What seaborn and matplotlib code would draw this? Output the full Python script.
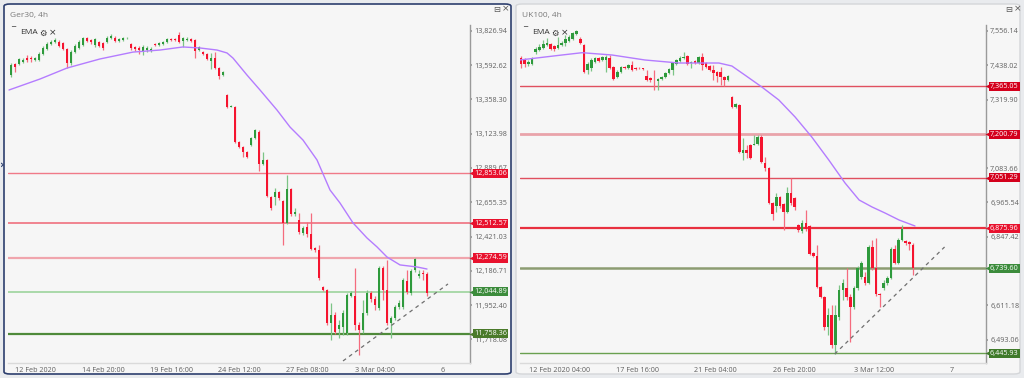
import matplotlib
matplotlib.use("Agg")
import matplotlib.pyplot as plt
import matplotlib.transforms as mtransforms
from matplotlib.patches import FancyBboxPatch
import numpy as np
import pandas as pd
import seaborn as sns

# ---- Ger30 4h candles: (open, high, low, close) ----
ger_ohlc = [
    (13524, 13606, 13511, 13593), (13599, 13606, 13545, 13579), (13599, 13640, 13593, 13634),
    (13613, 13640, 13606, 13627), (13640, 13661, 13613, 13627), (13640, 13654, 13613, 13634),
    (13627, 13647, 13620, 13640), (13627, 13681, 13620, 13668), (13668, 13722, 13661, 13709),
    (13702, 13750, 13695, 13736), (13736, 13763, 13729, 13750), (13750, 13777, 13743, 13763),
    (13750, 13763, 13716, 13722), (13743, 13750, 13695, 13702), (13702, 13709, 13572, 13606),
    (13606, 13695, 13593, 13681), (13681, 13736, 13675, 13722), (13709, 13763, 13702, 13750),
    (13729, 13784, 13722, 13777), (13777, 13784, 13750, 13757), (13763, 13770, 13736, 13750),
    (13729, 13777, 13716, 13770), (13750, 13757, 13716, 13722), (13743, 13750, 13695, 13709),
    (13750, 13791, 13743, 13777), (13777, 13804, 13770, 13791), (13777, 13791, 13750, 13757),
    (13757, 13777, 13750, 13770), (13763, 13784, 13757, 13777), (13774, 13784, 13770, 13779),
    (13736, 13743, 13695, 13709), (13716, 13722, 13688, 13702), (13709, 13722, 13668, 13695),
    (13688, 13729, 13661, 13716), (13695, 13722, 13681, 13709), (13688, 13716, 13681, 13702),
    (13736, 13743, 13722, 13729), (13729, 13750, 13722, 13743), (13736, 13757, 13729, 13750),
    (13750, 13777, 13743, 13770), (13770, 13777, 13757, 13763), (13770, 13777, 13757, 13763),
    (13798, 13818, 13743, 13750), (13757, 13784, 13716, 13777), (13763, 13784, 13757, 13770),
    (13770, 13777, 13750, 13757), (13763, 13770, 13640, 13688), (13695, 13722, 13688, 13716),
    (13681, 13688, 13661, 13668), (13668, 13675, 13627, 13634), (13620, 13675, 13565, 13640),
    (13640, 13681, 13565, 13572), (13572, 13579, 13497, 13518), (13524, 13552, 13518, 13545),
    (13388, 13395, 13299, 13306), (13309, 13319, 13306, 13313), (13306, 13313, 13060, 13067),
    (13067, 13074, 13026, 13033), (13033, 13039, 12964, 12998), (12998, 13005, 12957, 12964),
    (13046, 13101, 13039, 13094), (13094, 13156, 13087, 13149), (13135, 13149, 12869, 12917),
    (12917, 12998, 12910, 12944), (12944, 12951, 12691, 12698), (12691, 12698, 12602, 12616),
    (12691, 12753, 12636, 12725), (12725, 12732, 12671, 12684), (12664, 12671, 12363, 12514),
    (12514, 12841, 12507, 12746), (12746, 12753, 12561, 12575), (12575, 12616, 12561, 12589),
    (12534, 12582, 12438, 12452), (12445, 12493, 12432, 12479), (12486, 12520, 12418, 12438),
    (12438, 12582, 12329, 12336), (12343, 12350, 12315, 12329), (12329, 12363, 12124, 12138),
    (12076, 12083, 12049, 12056), (12056, 12063, 11817, 11831), (11831, 11967, 11714, 11885),
    (11885, 11906, 11755, 11769), (11790, 11851, 11728, 11817), (11803, 11919, 11749, 11899),
    (11762, 12035, 11749, 12022), (12015, 12049, 12008, 12035), (12015, 12206, 11783, 11817),
    (11817, 11837, 11612, 11783), (11783, 11988, 11762, 11899), (11899, 12056, 11885, 12035),
    (12035, 12049, 11974, 11994), (11994, 12015, 11919, 11953), (11933, 12220, 11919, 12206),
    (12206, 12220, 11988, 12056), (12056, 12261, 11817, 11831), (11831, 11878, 11728, 11865),
    (11865, 11953, 11851, 11940), (11940, 11988, 11926, 11967), (11940, 12138, 11926, 12124),
    (12117, 12192, 12029, 12042), (12035, 12199, 12022, 12186), (12192, 12274, 12179, 12268),
    (12152, 12192, 12138, 12165), (12172, 12192, 12124, 12165), (12165, 12179, 12015, 12035),
]
ger_ema_x = [-0.5, 7.25, 14, 22.25, 30.5, 37.25, 43, 47.25, 51.5, 54, 55.5, 59, 62.25, 66.5,
             69.75, 73, 76.5, 79.75, 82.25, 85.5, 89, 91.5, 94, 97.25, 101.5, 104]
ger_ema_y = [13422, 13497, 13572, 13634, 13681, 13695, 13716, 13709, 13695, 13675, 13640, 13524,
             13422, 13285, 13169, 13080, 12944, 12739, 12650, 12514, 12411, 12350, 12281, 12227,
             12213, 12199]
ger_levels = [12853.06, 12512.57, 12274.59, 12044.89, 11758.36]
ger_trend_x = [83, 109.25]
ger_trend_y = [11571, 12097]
ger_yticks = [13826.94, 13592.62, 13358.30, 13123.98, 12889.67, 12655.35, 12421.03,
              12186.71, 11952.40, 11718.08]
ger_xticks = [6, 23, 40, 57, 74, 91, 108]
ger_xlabels = ["12 Feb 2020", "14 Feb 20:00", "19 Feb 16:00", "24 Feb 12:00",
               "27 Feb 08:00", "3 Mar 04:00", "6"]

# ---- UK100 4h candles: (open, high, low, close) ----
uk_ohlc = [
    (7463.1, 7470.0, 7428.7, 7442.5), (7456.3, 7463.1, 7432.2, 7442.5), (7442.5, 7456.3, 7435.6, 7449.4),
    (7442.5, 7466.6, 7439.0, 7463.1), (7483.8, 7501.0, 7476.9, 7494.1), (7490.7, 7511.4, 7487.3, 7501.0),
    (7497.6, 7525.1, 7494.1, 7511.4), (7507.9, 7532.0, 7504.5, 7514.8), (7511.4, 7514.8, 7490.7, 7494.1),
    (7504.5, 7507.9, 7487.3, 7494.1), (7497.6, 7535.5, 7494.1, 7507.9), (7507.9, 7521.7, 7504.5, 7514.8),
    (7514.8, 7542.4, 7504.5, 7528.6), (7521.7, 7542.4, 7518.3, 7535.5), (7528.6, 7552.7, 7525.1, 7549.2),
    (7545.8, 7559.6, 7542.4, 7556.1), (7528.6, 7535.5, 7511.4, 7514.8), (7507.9, 7511.4, 7411.5, 7414.9),
    (7421.8, 7449.4, 7408.0, 7442.5), (7428.7, 7463.1, 7418.4, 7456.3), (7449.4, 7466.6, 7445.9, 7463.1),
    (7463.1, 7466.6, 7449.4, 7452.8), (7456.3, 7470.0, 7452.8, 7466.6), (7456.3, 7473.5, 7414.9, 7466.6),
    (7463.1, 7473.5, 7425.3, 7428.7), (7432.2, 7435.6, 7387.4, 7390.8), (7397.7, 7421.8, 7394.3, 7414.9),
    (7414.9, 7435.6, 7411.5, 7432.2), (7432.2, 7435.6, 7425.3, 7428.7), (7428.7, 7442.5, 7425.3, 7439.0),
    (7439.0, 7452.8, 7418.4, 7421.8), (7428.7, 7432.2, 7421.8, 7425.3), (7428.7, 7432.2, 7425.3, 7427.0),
    (7428.7, 7430.0, 7421.8, 7425.3), (7401.2, 7421.8, 7383.9, 7387.4), (7394.3, 7397.7, 7380.5, 7387.4),
    (7387.4, 7421.8, 7352.9, 7385.7), (7383.9, 7394.3, 7352.9, 7390.8), (7390.8, 7401.2, 7387.4, 7397.7),
    (7397.7, 7414.9, 7394.3, 7411.5), (7411.5, 7428.7, 7408.0, 7425.3), (7421.8, 7449.4, 7404.6, 7445.9),
    (7442.5, 7459.7, 7439.0, 7456.3), (7452.8, 7470.0, 7449.4, 7463.1), (7463.1, 7483.8, 7459.7, 7466.6),
    (7470.0, 7473.5, 7439.0, 7442.5), (7447.6, 7452.8, 7428.7, 7449.4), (7452.8, 7456.3, 7442.5, 7445.9),
    (7445.9, 7470.0, 7442.5, 7466.6), (7466.6, 7480.4, 7421.8, 7439.0), (7445.9, 7449.4, 7428.7, 7432.2),
    (7435.6, 7439.0, 7418.4, 7421.8), (7421.8, 7439.0, 7387.4, 7411.5), (7414.9, 7418.4, 7380.5, 7401.2),
    (7414.9, 7432.2, 7370.2, 7397.7), (7397.7, 7401.2, 7366.7, 7387.4), (7387.4, 7404.6, 7383.9, 7401.2),
    (7328.8, 7332.3, 7290.9, 7294.4), (7294.4, 7308.2, 7290.9, 7304.7), (7301.3, 7304.7, 7136.0, 7139.4),
    (7136.0, 7187.6, 7111.9, 7146.3), (7146.3, 7163.5, 7118.8, 7136.0), (7163.5, 7166.9, 7115.3, 7118.8),
    (7165.2, 7197.9, 7163.5, 7166.9), (7166.9, 7197.9, 7163.5, 7191.1), (7191.1, 7197.9, 7101.5, 7105.0),
    (7101.5, 7122.2, 7074.0, 7084.3), (7084.3, 7087.7, 6960.3, 6963.8), (6963.8, 6967.2, 6905.2, 6925.9),
    (6953.4, 6998.2, 6932.8, 6984.5), (6984.5, 6987.9, 6946.5, 6953.4), (6960.3, 6963.8, 6870.8, 6932.8),
    (6932.8, 7018.9, 6929.3, 6998.2), (6998.2, 7049.9, 6956.9, 6963.8), (6981.0, 6984.5, 6939.7, 6950.0),
    (6888.0, 6891.4, 6863.9, 6870.8), (6867.3, 6905.2, 6860.4, 6894.9), (6894.9, 6939.7, 6867.3, 6874.2),
    (6884.6, 6888.0, 6784.7, 6788.1), (6791.6, 6795.0, 6777.8, 6781.2), (6781.2, 6819.1, 6671.0, 6674.5),
    (6674.5, 6677.9, 6636.6, 6640.0), (6640.0, 6643.5, 6526.4, 6536.7), (6536.7, 6602.1, 6509.2, 6578.0),
    (6578.0, 6612.5, 6464.4, 6474.7), (6474.7, 6612.5, 6443.7, 6578.0), (6571.1, 6681.4, 6560.8, 6664.1),
    (6664.1, 6702.0, 6629.7, 6688.2), (6671.0, 6739.9, 6629.7, 6640.0), (6640.0, 6650.4, 6485.0, 6605.6),
    (6605.6, 6677.9, 6598.7, 6671.0), (6671.0, 6746.8, 6664.1, 6739.9), (6708.9, 6764.0, 6702.0, 6757.1),
    (6708.9, 6726.1, 6681.4, 6688.2), (6688.2, 6819.1, 6684.8, 6812.2), (6812.2, 6836.3, 6733.0, 6739.9),
    (6739.9, 6843.2, 6643.5, 6650.4), (6650.4, 6653.8, 6605.6, 6648.6), (6671.0, 6698.6, 6664.1, 6688.2),
    (6688.2, 6712.4, 6681.4, 6705.5), (6705.5, 6812.2, 6702.0, 6805.4), (6805.4, 6819.1, 6753.7, 6757.1),
    (6757.1, 6843.2, 6753.7, 6836.3), (6836.3, 6888.0, 6832.9, 6874.2), (6832.9, 6836.3, 6819.1, 6826.0),
    (6829.5, 6832.9, 6801.9, 6822.6), (6819.1, 6826.0, 6715.8, 6739.9),
]
uk_ema_x = [-0.3, 6.5, 11.1, 16.5, 24.6, 33.5, 42.7, 53.5, 57, 60.5, 65.1, 69.7, 74.1, 78.6,
            83.2, 87.6, 91.4, 94.9, 98.4, 102.2, 106.5]
uk_ema_y = [7456.3, 7466.6, 7473.5, 7481.4, 7473.5, 7456.3, 7445.9, 7445.9, 7435.6, 7404.6,
            7363.3, 7318.5, 7259.9, 7191.1, 7111.9, 7032.6, 6974.1, 6950.0, 6929.3, 6905.2, 6884.6]
uk_levels = [7365.05, 7200.79, 7051.29, 6875.96, 6739.60, 6445.93]
uk_trend_x = [84.8, 114.5]
uk_trend_y = [6443.7, 6812.2]
uk_yticks = [7556.14, 7438.02, 7319.90, 7083.66, 6965.54, 6847.42, 6611.18, 6493.06]
uk_xticks = [10.5, 31.5, 52.5, 74, 95.5, 116.5]
uk_xlabels = ["12 Feb 2020 04:00", "17 Feb 16:00", "21 Feb 04:00", "26 Feb 20:00",
              "3 Mar 12:00", "7"]

GREEN = "#2e9a3c"
RED = "#f5142f"
EMA = "#b47cff"
FS = 5.2

sns.set_theme(style="white")
plt.rcParams['font.family'] = ['Open Sans', 'DejaVu Sans']

W, H = 1024, 378
fig = plt.figure(figsize=(W / 100, H / 100), dpi=100)
fig.patch.set_facecolor("#e9ebee")


def fx(px):
    return px / W


def fy(py):
    return 1 - py / H


# panel frames (behind the axes)
fig.patches.append(FancyBboxPatch((fx(4), fy(374)), fx(507), (370 / H),
                                  boxstyle="round,pad=0,rounding_size=0.006",
                                  transform=fig.transFigure, fc="#f6f6f6", ec="#2d3f6e",
                                  lw=1.2, zorder=-5))
fig.patches.append(FancyBboxPatch((fx(516), fy(374)), fx(504), (370 / H),
                                  boxstyle="round,pad=0,rounding_size=0.006",
                                  transform=fig.transFigure, fc="#f6f6f6", ec="#d4d6d9",
                                  lw=1, zorder=-5))


def draw_panel(ax, ohlc, ema_x, ema_y, levels, line_styles, tag_colors,
               trend_x, trend_y, yticks, xticks, xlabels, xlim, ylim, minbody, ax_w):
    df = pd.DataFrame(ohlc, columns=["open", "high", "low", "close"])
    df["idx"] = np.arange(len(df))
    up = df["close"] >= df["open"]
    colors = np.where(up, GREEN, RED)
    wick_colors = np.where(up, "#7cc486", "#f56b7e")
    ax.set_facecolor("none")

    for lv, (col, lw) in zip(levels, line_styles):
        ax.axhline(lv, color=col, lw=lw, zorder=2)

    ax.vlines(df["idx"], df["low"], df["high"], colors=wick_colors, lw=0.9, zorder=3)
    body = np.maximum((df["close"] - df["open"]).abs(), minbody)
    ax.bar(df["idx"], body, bottom=np.minimum(df["open"], df["close"]), width=0.72,
           color=colors, linewidth=0, zorder=4)

    sns.lineplot(x=ema_x, y=ema_y, ax=ax, color=EMA, linewidth=1.0, zorder=5)
    ax.plot(trend_x, trend_y, color="#6f6f6f", lw=0.9, dashes=(3, 3), zorder=5)

    ax.set_xlim(*xlim)
    ax.set_ylim(*ylim)
    ax.yaxis.tick_right()
    ax.set_yticks(yticks)
    ax.set_yticklabels([f"{v:,.2f}" for v in yticks])
    ax.set_xticks(xticks)
    ax.set_xticklabels(xlabels)
    ax.tick_params(axis="y", length=1.5, color="#999999", pad=1.5, labelsize=FS,
                   labelcolor="#606060")
    ax.tick_params(axis="x", length=2, color="#d0d0d0", pad=1, labelsize=FS,
                   labelcolor="#606060")
    for s in ["top", "left"]:
        ax.spines[s].set_visible(False)
    ax.spines["right"].set_color("#9a9a9a")
    ax.spines["right"].set_linewidth(1)
    ax.spines["bottom"].set_color("#dadada")
    ax.spines["bottom"].set_linewidth(1)
    ax.set_xlabel("")
    ax.set_ylabel("")

    trans = mtransforms.blended_transform_factory(ax.transAxes, ax.transData)
    off = 4 / ax_w
    for lv, tc in zip(levels, tag_colors):
        ax.plot([1 + 1.5 / ax_w], [lv], marker="<", ms=4.2, color=tc, mec="none",
                transform=trans, clip_on=False, zorder=9)
        ax.text(1 + off, lv, f"{lv:,.2f}", transform=trans, ha="left", va="center",
                fontsize=FS, color="white", zorder=10, clip_on=False,
                bbox=dict(boxstyle="square,pad=0.15", fc=tc, ec="none"))


ax1 = fig.add_axes([fx(8), fy(363), fx(462), 338 / H])
ax2 = fig.add_axes([fx(520), fy(363), fx(466), 338 / H])

draw_panel(ax1, ger_ohlc, ger_ema_x, ger_ema_y, ger_levels,
           [("#f07a88", 1.0), ("#f07a88", 1.3), ("#f0a5ad", 1.6), ("#a3d6a3", 1.3), ("#4f8a3a", 1.6)],
           ["#e8112d", "#e8112d", "#e8112d", "#3c8c3c", "#4a7a2a"],
           ger_trend_x, ger_trend_y, ger_yticks, ger_xticks, ger_xlabels,
           (-0.75, 114.75), (11557, 13866), 6, 462)

draw_panel(ax2, uk_ohlc, uk_ema_x, uk_ema_y, uk_levels,
           [("#e0505f", 1.0), ("#e9a3aa", 2.0), ("#e0505f", 1.0), ("#e8303f", 1.6),
            ("#8c9c72", 1.8), ("#6aa050", 1.0)],
           ["#d4001c", "#d4001c", "#d4001c", "#e8112d", "#3c8c3c", "#3f7a2a"],
           uk_trend_x, uk_trend_y, uk_yticks, uk_xticks, uk_xlabels,
           (-0.27, 125.7), (6412.7, 7576.8), 3, 466)

# headers and legend text
for x0, name in [(0, "Ger30, 4h"), (512, "UK100, 4h")]:
    fig.text(fx(x0 + 10), fy(15), name, fontsize=6.0, color="#7a7a7a", va="center")
    fig.text(fx(x0 + 11), fy(31), "‾", fontsize=6, color="#444444", va="center",
             family="DejaVu Sans")
    fig.text(fx(x0 + 20), fy(33), "EMA", fontsize=6.0, color="#333333", va="center")
    fig.text(fx(x0 + 39), fy(33), "⚙", fontsize=6, color="#333333", va="center",
             family="DejaVu Sans")
    fig.text(fx(x0 + 49), fy(33), "×", fontsize=6.5, color="#333333", va="center",
             family="DejaVu Sans")
    fig.text(fx(x0 + 493), fy(9), "⊟", fontsize=6, color="#555555", va="center",
             family="DejaVu Sans")
    fig.text(fx(x0 + 502), fy(9), "×", fontsize=6.5, color="#555555", va="center",
             family="DejaVu Sans")
fig.text(fx(0), fy(165), "›", fontsize=8, color="#2d3f6e", va="center",
         fontweight="bold", family="DejaVu Sans")

fig.savefig("out.png", dpi=100, facecolor=fig.get_facecolor())
